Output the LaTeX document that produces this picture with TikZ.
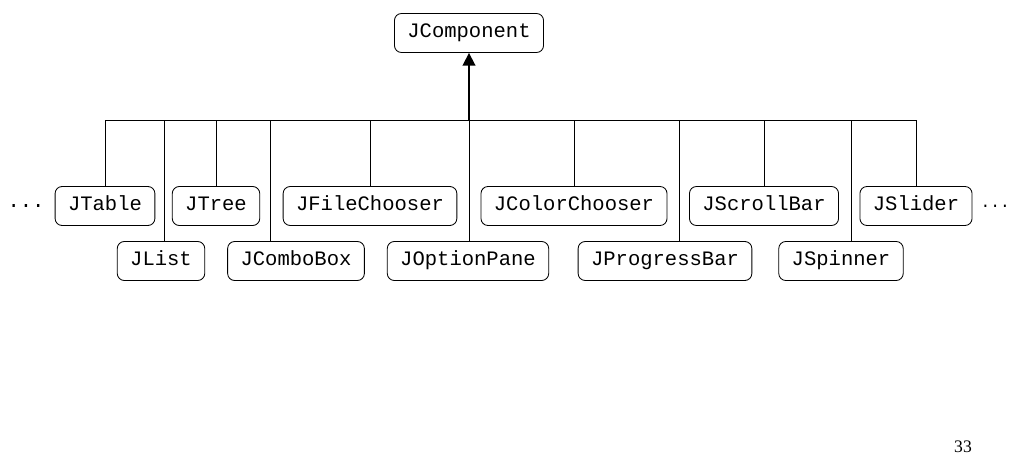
\documentclass[tikz,border=0pt]{standalone}
\usepackage{fontspec}
\setmainfont{Liberation Serif}
\newfontfamily\boxfont{Liberation Mono}
\usetikzlibrary{arrows.meta}

\tikzset{
  cls/.style={draw,rounded corners=5pt,line width=0.6pt,inner xsep=9.2pt,
    minimum height=0.975cm,text height=1.6ex,text depth=0.35ex,
    font=\boxfont\fontsize{14.6}{17}\selectfont},
  link/.style={line width=0.7pt}
}

\begin{document}
\begin{tikzpicture}[x=0.025cm,y=-0.025cm,>={Triangle[width=9pt,length=9pt]}]
\useasboundingbox (0,0) rectangle (1011,472);
% base class
\node[cls] (jc) at (469,33) {JComponent};
% upper row
\foreach \nm/\x/\txt in {tab/105/JTable,tre/216/JTree,fch/370/JFileChooser,
    cch/574/JColorChooser,scb/764/JScrollBar,sld/916/JSlider}
  \node[cls] (\nm) at (\x,206) {\txt};
% lower row
\foreach \nm/\x/\txt in {lst/161/JList,cmb/296/JComboBox,opt/468/JOptionPane,
    prg/665/JProgressBar,spn/841/JSpinner}
  \node[cls] (\nm) at (\x,261) {\txt};
\node[font=\boxfont\fontsize{14.6}{17}\selectfont] (dl) at (26,206) {...};
\node[font=\boxfont\fontsize{11.5}{14}\selectfont,anchor=east,inner xsep=0pt] (dr) at (1010,206) {...};
% bus
\coordinate (busL) at (105,120);
\coordinate (busR) at (916,120);
\draw[link] (busL) -- (busR);
\draw[line width=1.2pt,->] (jc.south |- busL) -- (jc.south);
\foreach \nm in {tab,tre,fch,cch,scb,sld}
  \draw[link] (\nm.north) -- (\nm.north |- busL);
\foreach \nm/\dx in {lst/3,cmb/-26,opt/1,prg/14,spn/10}
  \draw[link] ([xshift=\dx*0.025cm]\nm.north) -- ([xshift=\dx*0.025cm]\nm.north |- busL);
% page number
\node[font=\fontsize{12.5}{14}\selectfont] (pg) at (963,447) {33};
\end{tikzpicture}
\end{document}
